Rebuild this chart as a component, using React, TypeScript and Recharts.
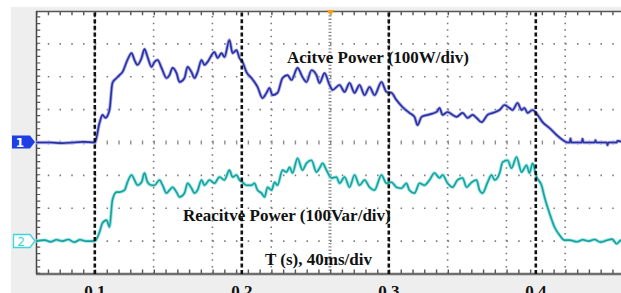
import React from 'react';
import { LineChart, Line, XAxis, YAxis, ReferenceLine } from 'recharts';

// Active power trace (channel 1), time in ms, power in W (100 W/div)
const activeTimeMs = [60, 70, 78, 85, 92, 100, 103.2, 105.2, 107.3, 110.0, 112.0, 114.8, 116.8, 118.8, 122.2, 125.0, 127.0, 129.0, 131.8, 133.8, 135.9, 138.6, 140.6, 142.7, 145.4, 148.8, 150.8, 152.9, 155.6, 157.6, 161.0, 163.1, 165.8, 167.8, 169.9, 172.6, 174.6, 176.7, 181.4, 183.5, 186.2, 188.2, 191.6, 193.7, 196.4, 198.4, 200.5, 203.2, 206.6, 208.6, 210.7, 214.1, 216.8, 218.8, 220.9, 224.3, 227.7, 231.1, 233.8, 237.9, 241.3, 244.0, 247.4, 250.8, 252.9, 256.3, 259.7, 261.7, 266.5, 269.9, 273.3, 276.7, 280.1, 283.5, 286.9, 290.3, 295.0, 298.4, 301.8, 305.2, 309.3, 314.0, 317.5, 319.5, 322.3, 326.3, 332.5, 334.5, 336.6, 340.0, 343.4, 346.1, 350.2, 353.6, 357.0, 359.7, 363.1, 367.2, 370.6, 375.4, 378.7, 382.1, 384.2, 387.6, 390.3, 392.3, 394.4, 397.8, 401.2, 404.6, 409.3, 414.1, 418.2, 421.6, 423, 423.6, 424.2, 431.2, 431.8, 432.4, 440, 440.6, 441.2, 448.2, 448.8, 449.4, 455, 455.6, 460];
const activePowerW = [0, 0, -2, 0, 2, 0, 59, 84, 75, 99, 181, 196, 205, 214, 251, 272, 251, 236, 257, 284, 260, 230, 245, 251, 227, 196, 205, 227, 211, 184, 196, 230, 214, 196, 214, 251, 236, 245, 275, 257, 272, 260, 312, 272, 281, 257, 245, 214, 196, 184, 169, 135, 151, 166, 144, 151, 196, 205, 190, 227, 199, 184, 220, 205, 181, 211, 175, 160, 175, 154, 181, 151, 175, 144, 169, 144, 184, 154, 151, 129, 108, 90, 78, 53, 78, 84, 93, 105, 84, 93, 84, 78, 90, 75, 84, 75, 62, 84, 90, 99, 114, 105, 99, 120, 99, 105, 90, 99, 84, 62, 44, 23, 8, 0, 0, 12, 0, 0, 11, 0, 0, 7, 0, 0, -8, 0, 0, 5, 0];

// Reactive power trace (channel 2), time in ms, power in Var (100 Var/div)
const reactiveTimeMs = [60, 66, 70, 74, 78, 82, 86, 90, 94, 100, 103.2, 105.2, 108.0, 110.0, 112.0, 114.8, 116.8, 120.2, 122.2, 125.0, 127.0, 129.0, 131.8, 133.8, 135.9, 138.6, 140.6, 144.0, 146.1, 148.8, 150.8, 152.9, 155.6, 157.6, 161.0, 163.1, 165.8, 167.8, 169.9, 172.6, 174.6, 178.0, 181.4, 184.8, 188.2, 191.6, 193.7, 196.4, 198.4, 200.5, 203.2, 206.6, 208.6, 210.7, 213.4, 215.5, 217.5, 220.2, 222.3, 224.3, 227.7, 230.4, 232.5, 234.5, 237.9, 241.3, 244.0, 247.4, 250.8, 252.9, 254.9, 257.6, 261.0, 264.4, 266.5, 269.9, 273.3, 276.7, 280.1, 283.5, 286.9, 290.3, 295.0, 298.4, 301.8, 305.2, 308.6, 312.0, 314.0, 317.5, 320.9, 324.3, 327.7, 331.1, 334.5, 336.6, 340.0, 343.4, 346.8, 350.2, 352.9, 356.3, 359.7, 361.7, 363.8, 367.2, 369.9, 372.0, 375.4, 377.4, 380.8, 383.5, 386.9, 390.3, 393.7, 395.7, 397.8, 400.5, 403.9, 405.9, 409.3, 412.7, 416.2, 419.5, 423, 428, 432, 436, 440, 444, 448, 452, 455, 458, 460];
const reactivePowerVar = [0, 3, -2, 4, 0, 5, -3, 4, 0, 0, 27, 55, 64, 43, 125, 149, 149, 155, 179, 201, 186, 170, 179, 207, 179, 170, 170, 186, 170, 146, 155, 164, 149, 134, 146, 176, 161, 146, 155, 186, 170, 186, 176, 195, 186, 216, 195, 201, 186, 179, 170, 170, 176, 155, 146, 134, 164, 155, 179, 170, 216, 210, 225, 207, 252, 216, 237, 246, 210, 222, 237, 216, 192, 195, 176, 195, 164, 201, 170, 186, 164, 155, 201, 176, 179, 164, 161, 176, 155, 146, 176, 170, 186, 207, 192, 201, 176, 164, 186, 192, 164, 179, 186, 155, 146, 179, 201, 186, 207, 240, 246, 222, 256, 210, 231, 207, 237, 195, 170, 134, 85, 43, 18, 3, 3, -2, 4, 0, 5, -3, 2, 6, -8, 3, 0];

// Axis / grid definitions
const timeDomainMs = [60, 460];
const activeDomainW = [-400, 400];
const reactiveDomainVar = [-100, 700];
const cursorTimesMs = [100, 200, 300, 400];
const gridTimesMs = [100, 140, 180, 220, 300, 340, 380, 420];
const centerTimeMs = 260;
const gridLevelsW = [-300, -200, -100, 100, 200, 300];

const activeData = activeTimeMs
  .slice(0, Math.min(activeTimeMs.length, activePowerW.length))
  .map((t, i) => ({ t, p: activePowerW[i] }));
const reactiveData = reactiveTimeMs
  .slice(0, Math.min(reactiveTimeMs.length, reactivePowerVar.length))
  .map((t, i) => ({ t, q: reactivePowerVar[i] }));

const SERIF = "'Liberation Serif', 'Times New Roman', serif";

const shifted = (dx: number, dy: number, stroke: string, width: number, dash?: string) => (p: any) => (
  <line
    x1={p.x1 + dx}
    y1={p.y1 + dy}
    x2={p.x2 + dx}
    y2={p.y2 + dy}
    stroke={stroke}
    strokeWidth={width}
    strokeDasharray={dash}
    fill="none"
  />
);

export default function App() {
  return (
    <div style={{ position: 'absolute', left: 0, top: 0, width: 621, height: 293, overflow: 'hidden', background: '#ffffff' }}>
      <div style={{ position: 'absolute', left: 11, top: 7, right: 0, bottom: 0, background: '#eeeeee' }} />
      <div style={{ position: 'absolute', left: 36, top: 11, width: 600, height: 263, background: '#ffffff' }} />
      <div style={{ position: 'absolute', left: 0, top: 0 }}>
        <LineChart width={624} height={293} margin={{ top: 11, right: 0, bottom: 0, left: 36 }}>
          <XAxis
            type="number"
            dataKey="t"
            domain={timeDomainMs}
            ticks={cursorTimesMs}
            interval={0}
            allowDataOverflow
            axisLine={false}
            tickLine={false}
            height={19}
            tickSize={6}
            tickMargin={5}
            tickFormatter={(v: number) => (v / 1000).toFixed(1)}
            tick={{ fontFamily: SERIF, fontWeight: 'bold', fontSize: 17, fill: '#111' }}
          />
          <YAxis yAxisId="p" hide type="number" domain={activeDomainW} allowDataOverflow />
          <YAxis yAxisId="q" hide type="number" domain={reactiveDomainVar} allowDataOverflow />

          {gridTimesMs.map((t) => (
            <ReferenceLine key={'gx' + t} yAxisId="p" x={t} shape={shifted(0, 0, '#7a7a7a', 1.6, '1.5 5.075')} />
          ))}
          {gridLevelsW.map((v) => (
            <ReferenceLine key={'gy' + v} yAxisId="p" y={v} shape={shifted(0, 0, '#7a7a7a', 1.6, '1.5 10.26')} />
          ))}
          <ReferenceLine yAxisId="p" x={centerTimeMs} shape={shifted(0, 0, '#8c8c8c', 3, '1.3 2.0')} />
          <ReferenceLine yAxisId="p" y={0} shape={shifted(0, 0, '#8c8c8c', 4, '1.4 10.36')} />

          <ReferenceLine yAxisId="p" y={activeDomainW[1]} shape={shifted(0, 0.5, '#555555', 1.5)} />
          <ReferenceLine yAxisId="p" y={activeDomainW[1]} shape={shifted(0, 2.5, '#555555', 3.5, '1.4 10.36')} />
          <ReferenceLine yAxisId="p" y={activeDomainW[0]} shape={shifted(0, 0, '#6e6e6e', 2.5)} />
          <ReferenceLine yAxisId="p" y={activeDomainW[0]} shape={shifted(0, -2.5, '#555555', 4, '1.4 10.36')} />
          <ReferenceLine yAxisId="p" x={timeDomainMs[0]} shape={shifted(0.5, 0, '#444444', 1.5)} />
          <ReferenceLine yAxisId="p" x={timeDomainMs[0]} shape={shifted(2.5, 0, '#555555', 3.5, '1.2 5.375')} />

          <Line yAxisId="p" data={activeData} dataKey="p" type="monotone" dot={false} stroke="#a4a8ea" strokeWidth={3.4} isAnimationActive={false} />
          <Line yAxisId="p" data={activeData} dataKey="p" type="monotone" dot={false} stroke="#2a2f9e" strokeWidth={1.6} isAnimationActive={false} />
          <Line yAxisId="q" data={reactiveData} dataKey="q" type="monotone" dot={false} stroke="#93e5e1" strokeWidth={3.4} isAnimationActive={false} />
          <Line yAxisId="q" data={reactiveData} dataKey="q" type="monotone" dot={false} stroke="#1a9f9f" strokeWidth={1.6} isAnimationActive={false} />

          {cursorTimesMs.map((t) => (
            <ReferenceLine key={'c' + t} yAxisId="p" x={t} shape={shifted(0, 0, '#111111', 2.6, '4 2.6')} />
          ))}
        </LineChart>
      </div>
      <svg width={621} height={293} style={{ position: 'absolute', left: 0, top: 0, pointerEvents: 'none' }}>
        <polygon points="326.5,10 334.5,10 330.5,15.5" fill="#f2a21a" />
        <polygon points="12,135.5 30,135.5 35,142 30,148.5 12,148.5" fill="#1f3fe6" />
        <text x={20} y={147} fontFamily="'DejaVu Sans', sans-serif" fontWeight="bold" fontSize={12} fill="#ffffff" textAnchor="middle">1</text>
        <polygon points="13.5,234.5 30,234.5 35,241 30,247.5 13.5,247.5" fill="#ffffff" stroke="#3fd5dc" strokeWidth={1.3} />
        <text x={21} y={246} fontFamily="'DejaVu Sans', sans-serif" fontSize={12} fill="#3fd5dc" textAnchor="middle">2</text>
        <text x={287} y={63} fontFamily={SERIF} fontWeight="bold" fontSize={17} fill="#111">Acitve Power (100W/div)</text>
        <text x={183} y={221} fontFamily={SERIF} fontWeight="bold" fontSize={17} fill="#111">Reacitve Power (100Var/div)</text>
        <text x={265} y={265} fontFamily={SERIF} fontWeight="bold" fontSize={17} fill="#111">T (s), 40ms/div</text>
      </svg>
    </div>
  );
}
